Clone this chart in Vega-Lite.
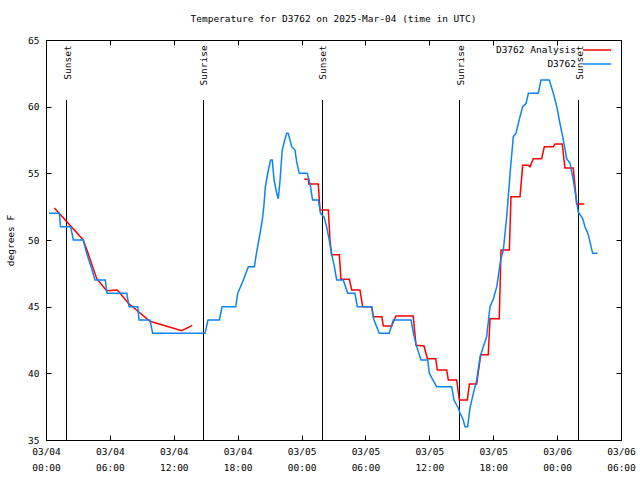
{
  "$schema": "https://vega.github.io/schema/vega-lite/v6.json",
  "width": 575,
  "height": 400,
  "autosize": "none",
  "padding": {"left": 46, "top": 40, "right": 19, "bottom": 40},
  "background": "white",
  "title": {"text": "Temperature for D3762 on 2025-Mar-04 (time in UTC)", "font": "DejaVu Sans Mono", "fontSize": 9.5, "fontWeight": "normal", "color": "black", "anchor": "middle", "offset": 12},
  "config": {
    "view": {"stroke": "black", "strokeWidth": 1},
    "axis": {"labelFont": "DejaVu Sans Mono", "labelFontSize": 9.5, "labelColor": "black", "tickColor": "black", "domain": false, "grid": false, "titleFont": "DejaVu Sans Mono", "titleFontSize": 9.5, "titleFontWeight": "normal", "titleColor": "black"},
    "legend": {"labelFont": "DejaVu Sans Mono", "labelFontSize": 9.5, "labelColor": "black"}
  },
  "datasets": {
    "sun": [
      {"t": "2025-03-04T01:55:31Z", "event": "Sunset"},
      {"t": "2025-03-04T14:47:28Z", "event": "Sunrise"},
      {"t": "2025-03-05T01:58:01Z", "event": "Sunset"},
      {"t": "2025-03-05T14:49:59Z", "event": "Sunrise"},
      {"t": "2025-03-06T02:00:32Z", "event": "Sunset"}
    ],
    "temps": [
      {"t": "2025-03-04T00:17:00Z", "temp": 52, "series": "D3762", "seg": "b"},
      {"t": "2025-03-04T01:15:00Z", "temp": 52, "series": "D3762", "seg": "b"},
      {"t": "2025-03-04T01:22:00Z", "temp": 51, "series": "D3762", "seg": "b"},
      {"t": "2025-03-04T02:19:00Z", "temp": 51, "series": "D3762", "seg": "b"},
      {"t": "2025-03-04T02:34:00Z", "temp": 50, "series": "D3762", "seg": "b"},
      {"t": "2025-03-04T03:30:00Z", "temp": 50, "series": "D3762", "seg": "b"},
      {"t": "2025-03-04T03:49:00Z", "temp": 49, "series": "D3762", "seg": "b"},
      {"t": "2025-03-04T04:14:00Z", "temp": 48, "series": "D3762", "seg": "b"},
      {"t": "2025-03-04T04:36:00Z", "temp": 47, "series": "D3762", "seg": "b"},
      {"t": "2025-03-04T05:34:00Z", "temp": 47, "series": "D3762", "seg": "b"},
      {"t": "2025-03-04T05:44:00Z", "temp": 46, "series": "D3762", "seg": "b"},
      {"t": "2025-03-04T07:35:00Z", "temp": 46, "series": "D3762", "seg": "b"},
      {"t": "2025-03-04T07:48:00Z", "temp": 45, "series": "D3762", "seg": "b"},
      {"t": "2025-03-04T08:37:00Z", "temp": 45, "series": "D3762", "seg": "b"},
      {"t": "2025-03-04T08:44:00Z", "temp": 44, "series": "D3762", "seg": "b"},
      {"t": "2025-03-04T09:46:00Z", "temp": 44, "series": "D3762", "seg": "b"},
      {"t": "2025-03-04T10:01:00Z", "temp": 43, "series": "D3762", "seg": "b"},
      {"t": "2025-03-04T14:56:00Z", "temp": 43, "series": "D3762", "seg": "b"},
      {"t": "2025-03-04T15:13:00Z", "temp": 44, "series": "D3762", "seg": "b"},
      {"t": "2025-03-04T16:17:00Z", "temp": 44, "series": "D3762", "seg": "b"},
      {"t": "2025-03-04T16:32:00Z", "temp": 45, "series": "D3762", "seg": "b"},
      {"t": "2025-03-04T17:49:00Z", "temp": 45, "series": "D3762", "seg": "b"},
      {"t": "2025-03-04T18:00:00Z", "temp": 46, "series": "D3762", "seg": "b"},
      {"t": "2025-03-04T18:32:00Z", "temp": 47, "series": "D3762", "seg": "b"},
      {"t": "2025-03-04T19:00:00Z", "temp": 48, "series": "D3762", "seg": "b"},
      {"t": "2025-03-04T19:34:00Z", "temp": 48, "series": "D3762", "seg": "b"},
      {"t": "2025-03-04T19:47:00Z", "temp": 49.1, "series": "D3762", "seg": "b"},
      {"t": "2025-03-04T20:06:00Z", "temp": 50.5, "series": "D3762", "seg": "b"},
      {"t": "2025-03-04T20:19:00Z", "temp": 51.5, "series": "D3762", "seg": "b"},
      {"t": "2025-03-04T20:28:00Z", "temp": 52.6, "series": "D3762", "seg": "b"},
      {"t": "2025-03-04T20:36:00Z", "temp": 54, "series": "D3762", "seg": "b"},
      {"t": "2025-03-04T20:53:00Z", "temp": 55.25, "series": "D3762", "seg": "b"},
      {"t": "2025-03-04T21:06:00Z", "temp": 56, "series": "D3762", "seg": "b"},
      {"t": "2025-03-04T21:15:00Z", "temp": 56, "series": "D3762", "seg": "b"},
      {"t": "2025-03-04T21:25:00Z", "temp": 54.5, "series": "D3762", "seg": "b"},
      {"t": "2025-03-04T21:40:00Z", "temp": 53.5, "series": "D3762", "seg": "b"},
      {"t": "2025-03-04T21:49:00Z", "temp": 53.1, "series": "D3762", "seg": "b"},
      {"t": "2025-03-04T21:59:00Z", "temp": 54.5, "series": "D3762", "seg": "b"},
      {"t": "2025-03-04T22:11:00Z", "temp": 56.75, "series": "D3762", "seg": "b"},
      {"t": "2025-03-04T22:27:00Z", "temp": 57.6, "series": "D3762", "seg": "b"},
      {"t": "2025-03-04T22:36:00Z", "temp": 58, "series": "D3762", "seg": "b"},
      {"t": "2025-03-04T22:45:00Z", "temp": 58, "series": "D3762", "seg": "b"},
      {"t": "2025-03-04T23:04:00Z", "temp": 57, "series": "D3762", "seg": "b"},
      {"t": "2025-03-04T23:23:00Z", "temp": 56.75, "series": "D3762", "seg": "b"},
      {"t": "2025-03-04T23:32:00Z", "temp": 55.9, "series": "D3762", "seg": "b"},
      {"t": "2025-03-04T23:47:00Z", "temp": 55, "series": "D3762", "seg": "b"},
      {"t": "2025-03-05T00:32:00Z", "temp": 55, "series": "D3762", "seg": "b"},
      {"t": "2025-03-05T00:48:00Z", "temp": 54.2, "series": "D3762", "seg": "b"},
      {"t": "2025-03-05T01:02:00Z", "temp": 53, "series": "D3762", "seg": "b"},
      {"t": "2025-03-05T01:35:00Z", "temp": 53, "series": "D3762", "seg": "b"},
      {"t": "2025-03-05T01:47:00Z", "temp": 52, "series": "D3762", "seg": "b"},
      {"t": "2025-03-05T02:07:00Z", "temp": 51.7, "series": "D3762", "seg": "b"},
      {"t": "2025-03-05T02:21:00Z", "temp": 51, "series": "D3762", "seg": "b"},
      {"t": "2025-03-05T02:36:00Z", "temp": 50, "series": "D3762", "seg": "b"},
      {"t": "2025-03-05T02:50:00Z", "temp": 48.9, "series": "D3762", "seg": "b"},
      {"t": "2025-03-05T03:05:00Z", "temp": 48, "series": "D3762", "seg": "b"},
      {"t": "2025-03-05T03:18:00Z", "temp": 47, "series": "D3762", "seg": "b"},
      {"t": "2025-03-05T03:55:00Z", "temp": 47, "series": "D3762", "seg": "b"},
      {"t": "2025-03-05T04:20:00Z", "temp": 46, "series": "D3762", "seg": "b"},
      {"t": "2025-03-05T05:01:00Z", "temp": 46, "series": "D3762", "seg": "b"},
      {"t": "2025-03-05T05:14:00Z", "temp": 45, "series": "D3762", "seg": "b"},
      {"t": "2025-03-05T06:35:00Z", "temp": 45, "series": "D3762", "seg": "b"},
      {"t": "2025-03-05T06:48:00Z", "temp": 44, "series": "D3762", "seg": "b"},
      {"t": "2025-03-05T07:18:00Z", "temp": 43, "series": "D3762", "seg": "b"},
      {"t": "2025-03-05T08:14:00Z", "temp": 43, "series": "D3762", "seg": "b"},
      {"t": "2025-03-05T08:37:00Z", "temp": 44, "series": "D3762", "seg": "b"},
      {"t": "2025-03-05T10:17:00Z", "temp": 44, "series": "D3762", "seg": "b"},
      {"t": "2025-03-05T10:30:00Z", "temp": 43, "series": "D3762", "seg": "b"},
      {"t": "2025-03-05T10:49:00Z", "temp": 42, "series": "D3762", "seg": "b"},
      {"t": "2025-03-05T11:13:00Z", "temp": 41, "series": "D3762", "seg": "b"},
      {"t": "2025-03-05T11:51:00Z", "temp": 41, "series": "D3762", "seg": "b"},
      {"t": "2025-03-05T12:00:00Z", "temp": 40, "series": "D3762", "seg": "b"},
      {"t": "2025-03-05T12:41:00Z", "temp": 39, "series": "D3762", "seg": "b"},
      {"t": "2025-03-05T14:06:00Z", "temp": 39, "series": "D3762", "seg": "b"},
      {"t": "2025-03-05T14:19:00Z", "temp": 38, "series": "D3762", "seg": "b"},
      {"t": "2025-03-05T14:43:00Z", "temp": 37.4, "series": "D3762", "seg": "b"},
      {"t": "2025-03-05T14:53:00Z", "temp": 37, "series": "D3762", "seg": "b"},
      {"t": "2025-03-05T15:11:00Z", "temp": 36.5, "series": "D3762", "seg": "b"},
      {"t": "2025-03-05T15:21:00Z", "temp": 36, "series": "D3762", "seg": "b"},
      {"t": "2025-03-05T15:36:00Z", "temp": 36, "series": "D3762", "seg": "b"},
      {"t": "2025-03-05T15:49:00Z", "temp": 37.4, "series": "D3762", "seg": "b"},
      {"t": "2025-03-05T16:08:00Z", "temp": 38.5, "series": "D3762", "seg": "b"},
      {"t": "2025-03-05T16:27:00Z", "temp": 39.5, "series": "D3762", "seg": "b"},
      {"t": "2025-03-05T16:46:00Z", "temp": 41.25, "series": "D3762", "seg": "b"},
      {"t": "2025-03-05T17:04:00Z", "temp": 42, "series": "D3762", "seg": "b"},
      {"t": "2025-03-05T17:23:00Z", "temp": 42.75, "series": "D3762", "seg": "b"},
      {"t": "2025-03-05T17:42:00Z", "temp": 45, "series": "D3762", "seg": "b"},
      {"t": "2025-03-05T18:01:00Z", "temp": 45.6, "series": "D3762", "seg": "b"},
      {"t": "2025-03-05T18:20:00Z", "temp": 46.5, "series": "D3762", "seg": "b"},
      {"t": "2025-03-05T18:42:00Z", "temp": 48.5, "series": "D3762", "seg": "b"},
      {"t": "2025-03-05T18:57:00Z", "temp": 49.25, "series": "D3762", "seg": "b"},
      {"t": "2025-03-05T19:16:00Z", "temp": 51.75, "series": "D3762", "seg": "b"},
      {"t": "2025-03-05T19:35:00Z", "temp": 55, "series": "D3762", "seg": "b"},
      {"t": "2025-03-05T19:53:00Z", "temp": 57.75, "series": "D3762", "seg": "b"},
      {"t": "2025-03-05T20:08:00Z", "temp": 58, "series": "D3762", "seg": "b"},
      {"t": "2025-03-05T20:31:00Z", "temp": 59.25, "series": "D3762", "seg": "b"},
      {"t": "2025-03-05T20:46:00Z", "temp": 60, "series": "D3762", "seg": "b"},
      {"t": "2025-03-05T21:05:00Z", "temp": 60.25, "series": "D3762", "seg": "b"},
      {"t": "2025-03-05T21:18:00Z", "temp": 61, "series": "D3762", "seg": "b"},
      {"t": "2025-03-05T22:14:00Z", "temp": 61, "series": "D3762", "seg": "b"},
      {"t": "2025-03-05T22:29:00Z", "temp": 62, "series": "D3762", "seg": "b"},
      {"t": "2025-03-05T23:16:00Z", "temp": 62, "series": "D3762", "seg": "b"},
      {"t": "2025-03-05T23:39:00Z", "temp": 61, "series": "D3762", "seg": "b"},
      {"t": "2025-03-05T23:58:00Z", "temp": 60, "series": "D3762", "seg": "b"},
      {"t": "2025-03-06T00:16:00Z", "temp": 58.75, "series": "D3762", "seg": "b"},
      {"t": "2025-03-06T00:35:00Z", "temp": 57.5, "series": "D3762", "seg": "b"},
      {"t": "2025-03-06T00:54:00Z", "temp": 56.1, "series": "D3762", "seg": "b"},
      {"t": "2025-03-06T01:13:00Z", "temp": 55.75, "series": "D3762", "seg": "b"},
      {"t": "2025-03-06T01:31:00Z", "temp": 54.5, "series": "D3762", "seg": "b"},
      {"t": "2025-03-06T01:46:00Z", "temp": 53.25, "series": "D3762", "seg": "b"},
      {"t": "2025-03-06T01:59:00Z", "temp": 52.1, "series": "D3762", "seg": "b"},
      {"t": "2025-03-06T02:24:00Z", "temp": 51.6, "series": "D3762", "seg": "b"},
      {"t": "2025-03-06T02:37:00Z", "temp": 51, "series": "D3762", "seg": "b"},
      {"t": "2025-03-06T02:56:00Z", "temp": 50.4, "series": "D3762", "seg": "b"},
      {"t": "2025-03-06T03:20:00Z", "temp": 49, "series": "D3762", "seg": "b"},
      {"t": "2025-03-06T03:47:00Z", "temp": 49, "series": "D3762", "seg": "b"},
      {"t": "2025-03-04T00:47:00Z", "temp": 52.4, "series": "D3762 Analysis", "seg": "r1"},
      {"t": "2025-03-04T03:30:00Z", "temp": 50, "series": "D3762 Analysis", "seg": "r1"},
      {"t": "2025-03-04T03:57:00Z", "temp": 49, "series": "D3762 Analysis", "seg": "r1"},
      {"t": "2025-03-04T04:46:00Z", "temp": 47.1, "series": "D3762 Analysis", "seg": "r1"},
      {"t": "2025-03-04T05:42:00Z", "temp": 46.2, "series": "D3762 Analysis", "seg": "r1"},
      {"t": "2025-03-04T06:42:00Z", "temp": 46.25, "series": "D3762 Analysis", "seg": "r1"},
      {"t": "2025-03-04T07:44:00Z", "temp": 45.25, "series": "D3762 Analysis", "seg": "r1"},
      {"t": "2025-03-04T09:46:00Z", "temp": 43.9, "series": "D3762 Analysis", "seg": "r1"},
      {"t": "2025-03-04T12:45:00Z", "temp": 43.2, "series": "D3762 Analysis", "seg": "r1"},
      {"t": "2025-03-04T13:44:00Z", "temp": 43.6, "series": "D3762 Analysis", "seg": "r1"},
      {"t": "2025-03-05T00:15:00Z", "temp": 54.55, "series": "D3762 Analysis", "seg": "r2"},
      {"t": "2025-03-05T00:39:00Z", "temp": 54.55, "series": "D3762 Analysis", "seg": "r2"},
      {"t": "2025-03-05T00:40:00Z", "temp": 54.2, "series": "D3762 Analysis", "seg": "r2"},
      {"t": "2025-03-05T01:34:00Z", "temp": 54.2, "series": "D3762 Analysis", "seg": "r2"},
      {"t": "2025-03-05T01:44:00Z", "temp": 52.25, "series": "D3762 Analysis", "seg": "r2"},
      {"t": "2025-03-05T02:31:00Z", "temp": 52.25, "series": "D3762 Analysis", "seg": "r2"},
      {"t": "2025-03-05T02:40:00Z", "temp": 50, "series": "D3762 Analysis", "seg": "r2"},
      {"t": "2025-03-05T02:49:00Z", "temp": 48.9, "series": "D3762 Analysis", "seg": "r2"},
      {"t": "2025-03-05T03:33:00Z", "temp": 48.9, "series": "D3762 Analysis", "seg": "r2"},
      {"t": "2025-03-05T03:42:00Z", "temp": 47.05, "series": "D3762 Analysis", "seg": "r2"},
      {"t": "2025-03-05T04:29:00Z", "temp": 47.05, "series": "D3762 Analysis", "seg": "r2"},
      {"t": "2025-03-05T04:43:00Z", "temp": 46.25, "series": "D3762 Analysis", "seg": "r2"},
      {"t": "2025-03-05T05:29:00Z", "temp": 46.25, "series": "D3762 Analysis", "seg": "r2"},
      {"t": "2025-03-05T05:44:00Z", "temp": 45, "series": "D3762 Analysis", "seg": "r2"},
      {"t": "2025-03-05T06:35:00Z", "temp": 45, "series": "D3762 Analysis", "seg": "r2"},
      {"t": "2025-03-05T06:44:00Z", "temp": 44.25, "series": "D3762 Analysis", "seg": "r2"},
      {"t": "2025-03-05T07:32:00Z", "temp": 44.25, "series": "D3762 Analysis", "seg": "r2"},
      {"t": "2025-03-05T07:41:00Z", "temp": 43.55, "series": "D3762 Analysis", "seg": "r2"},
      {"t": "2025-03-05T08:28:00Z", "temp": 43.55, "series": "D3762 Analysis", "seg": "r2"},
      {"t": "2025-03-05T08:52:00Z", "temp": 44.3, "series": "D3762 Analysis", "seg": "r2"},
      {"t": "2025-03-05T10:29:00Z", "temp": 44.3, "series": "D3762 Analysis", "seg": "r2"},
      {"t": "2025-03-05T10:45:00Z", "temp": 42.1, "series": "D3762 Analysis", "seg": "r2"},
      {"t": "2025-03-05T11:30:00Z", "temp": 42.05, "series": "D3762 Analysis", "seg": "r2"},
      {"t": "2025-03-05T11:49:00Z", "temp": 41.1, "series": "D3762 Analysis", "seg": "r2"},
      {"t": "2025-03-05T12:36:00Z", "temp": 41.1, "series": "D3762 Analysis", "seg": "r2"},
      {"t": "2025-03-05T12:45:00Z", "temp": 40.25, "series": "D3762 Analysis", "seg": "r2"},
      {"t": "2025-03-05T13:38:00Z", "temp": 40.25, "series": "D3762 Analysis", "seg": "r2"},
      {"t": "2025-03-05T13:47:00Z", "temp": 39.5, "series": "D3762 Analysis", "seg": "r2"},
      {"t": "2025-03-05T14:34:00Z", "temp": 39.5, "series": "D3762 Analysis", "seg": "r2"},
      {"t": "2025-03-05T14:49:00Z", "temp": 38, "series": "D3762 Analysis", "seg": "r2"},
      {"t": "2025-03-05T15:34:00Z", "temp": 38, "series": "D3762 Analysis", "seg": "r2"},
      {"t": "2025-03-05T15:46:00Z", "temp": 39.2, "series": "D3762 Analysis", "seg": "r2"},
      {"t": "2025-03-05T16:27:00Z", "temp": 39.2, "series": "D3762 Analysis", "seg": "r2"},
      {"t": "2025-03-05T16:36:00Z", "temp": 40.1, "series": "D3762 Analysis", "seg": "r2"},
      {"t": "2025-03-05T16:50:00Z", "temp": 41.4, "series": "D3762 Analysis", "seg": "r2"},
      {"t": "2025-03-05T17:32:00Z", "temp": 41.4, "series": "D3762 Analysis", "seg": "r2"},
      {"t": "2025-03-05T17:42:00Z", "temp": 44.1, "series": "D3762 Analysis", "seg": "r2"},
      {"t": "2025-03-05T18:34:00Z", "temp": 44.1, "series": "D3762 Analysis", "seg": "r2"},
      {"t": "2025-03-05T18:44:00Z", "temp": 49.25, "series": "D3762 Analysis", "seg": "r2"},
      {"t": "2025-03-05T19:31:00Z", "temp": 49.25, "series": "D3762 Analysis", "seg": "r2"},
      {"t": "2025-03-05T19:40:00Z", "temp": 53.25, "series": "D3762 Analysis", "seg": "r2"},
      {"t": "2025-03-05T20:31:00Z", "temp": 53.25, "series": "D3762 Analysis", "seg": "r2"},
      {"t": "2025-03-05T20:46:00Z", "temp": 55.6, "series": "D3762 Analysis", "seg": "r2"},
      {"t": "2025-03-05T21:18:00Z", "temp": 55.6, "series": "D3762 Analysis", "seg": "r2"},
      {"t": "2025-03-05T21:27:00Z", "temp": 55.5, "series": "D3762 Analysis", "seg": "r2"},
      {"t": "2025-03-05T21:46:00Z", "temp": 56.1, "series": "D3762 Analysis", "seg": "r2"},
      {"t": "2025-03-05T22:33:00Z", "temp": 56.1, "series": "D3762 Analysis", "seg": "r2"},
      {"t": "2025-03-05T22:48:00Z", "temp": 57, "series": "D3762 Analysis", "seg": "r2"},
      {"t": "2025-03-05T23:38:00Z", "temp": 57, "series": "D3762 Analysis", "seg": "r2"},
      {"t": "2025-03-05T23:48:00Z", "temp": 57.2, "series": "D3762 Analysis", "seg": "r2"},
      {"t": "2025-03-06T00:29:00Z", "temp": 57.2, "series": "D3762 Analysis", "seg": "r2"},
      {"t": "2025-03-06T00:44:00Z", "temp": 55.4, "series": "D3762 Analysis", "seg": "r2"},
      {"t": "2025-03-06T01:31:00Z", "temp": 55.4, "series": "D3762 Analysis", "seg": "r2"},
      {"t": "2025-03-06T01:41:00Z", "temp": 54, "series": "D3762 Analysis", "seg": "r2"},
      {"t": "2025-03-06T01:50:00Z", "temp": 52.7, "series": "D3762 Analysis", "seg": "r2"},
      {"t": "2025-03-06T02:33:00Z", "temp": 52.7, "series": "D3762 Analysis", "seg": "r2"}
    ]
  },
  "resolve": {"axis": {"x": "independent", "y": "independent"}},
  "layer": [
    {
      "data": {"name": "sun"},
      "mark": {"type": "rule", "color": "black", "strokeWidth": 1, "opacity": 1},
      "encoding": {
        "x": {"field": "t", "type": "temporal", "axis": null, "scale": {"type": "utc", "domain": [{"year": 2025, "month": 3, "date": 4, "hours": 0, "utc": true}, {"year": 2025, "month": 3, "date": 6, "hours": 6, "utc": true}]}},
        "y": {"datum": 60.5, "type": "quantitative", "axis": null},
        "y2": {"datum": 35}
      }
    },
    {
      "data": {"name": "sun"},
      "mark": {"type": "text", "angle": 270, "align": "right", "baseline": "middle", "font": "DejaVu Sans Mono", "fontSize": 9.5, "color": "black", "dx": 0, "dy": 1},
      "encoding": {
        "x": {"field": "t", "type": "temporal", "axis": null},
        "y": {"datum": 64.6, "type": "quantitative", "axis": null},
        "text": {"field": "event"}
      }
    },
    {
      "data": {"name": "temps"},
      "transform": [{"filter": "datum.series === 'D3762 Analysis'"}],
      "mark": {"type": "line", "strokeWidth": 1.5},
      "encoding": {
        "x": {"field": "t", "type": "temporal", "title": null,
          "axis": {"orient": "bottom", "values": [
            {"year": 2025, "month": 3, "date": 4, "hours": 0, "utc": true},
            {"year": 2025, "month": 3, "date": 4, "hours": 6, "utc": true},
            {"year": 2025, "month": 3, "date": 4, "hours": 12, "utc": true},
            {"year": 2025, "month": 3, "date": 4, "hours": 18, "utc": true},
            {"year": 2025, "month": 3, "date": 5, "hours": 0, "utc": true},
            {"year": 2025, "month": 3, "date": 5, "hours": 6, "utc": true},
            {"year": 2025, "month": 3, "date": 5, "hours": 12, "utc": true},
            {"year": 2025, "month": 3, "date": 5, "hours": 18, "utc": true},
            {"year": 2025, "month": 3, "date": 6, "hours": 0, "utc": true},
            {"year": 2025, "month": 3, "date": 6, "hours": 6, "utc": true}],
            "labelExpr": "[utcFormat(datum.value, '%m/%d'), utcFormat(datum.value, '%H:%M')]",
            "labelLineHeight": 16, "labelFlush": false, "labelOverlap": false, "tickSize": -5, "labelPadding": 11}},
        "y": {"field": "temp", "type": "quantitative", "title": "degrees F",
          "scale": {"domain": [35, 65], "nice": false, "zero": false},
          "axis": {"orient": "left", "values": [35, 40, 45, 50, 55, 60, 65], "tickSize": -5, "labelPadding": 12, "titlePadding": 12, "labelFlush": false}},
        "color": {"field": "series", "type": "nominal",
          "scale": {"domain": ["D3762 Analysis", "D3762"], "range": ["#ff0000", "#0b84f5"]},
          "legend": {"title": null, "orient": "none", "legendX": 536, "legendY": 4, "symbolType": "M-2.8,0H2.8", "symbolSize": 100, "symbolStrokeWidth": 1.5, "symbolOffset": 9, "labelAlign": "right", "labelOffset": -27, "rowPadding": 3, "padding": 0}},
        "detail": {"field": "seg"}
      }
    },
    {
      "data": {"name": "temps"},
      "transform": [{"filter": "datum.series === 'D3762'"}],
      "mark": {"type": "line", "strokeWidth": 1.5},
      "encoding": {
        "x": {"field": "t", "type": "temporal", "title": null,
          "axis": {"orient": "top", "labels": false, "tickSize": -5, "values": [
            {"year": 2025, "month": 3, "date": 4, "hours": 0, "utc": true},
            {"year": 2025, "month": 3, "date": 4, "hours": 6, "utc": true},
            {"year": 2025, "month": 3, "date": 4, "hours": 12, "utc": true},
            {"year": 2025, "month": 3, "date": 4, "hours": 18, "utc": true},
            {"year": 2025, "month": 3, "date": 5, "hours": 0, "utc": true},
            {"year": 2025, "month": 3, "date": 5, "hours": 6, "utc": true},
            {"year": 2025, "month": 3, "date": 5, "hours": 12, "utc": true},
            {"year": 2025, "month": 3, "date": 5, "hours": 18, "utc": true},
            {"year": 2025, "month": 3, "date": 6, "hours": 0, "utc": true},
            {"year": 2025, "month": 3, "date": 6, "hours": 6, "utc": true}]}},
        "y": {"field": "temp", "type": "quantitative", "title": null,
          "axis": {"orient": "right", "labels": false, "tickSize": -5, "values": [35, 40, 45, 50, 55, 60, 65]}},
        "color": {"field": "series", "type": "nominal"},
        "detail": {"field": "seg"}
      }
    }
  ]
}
